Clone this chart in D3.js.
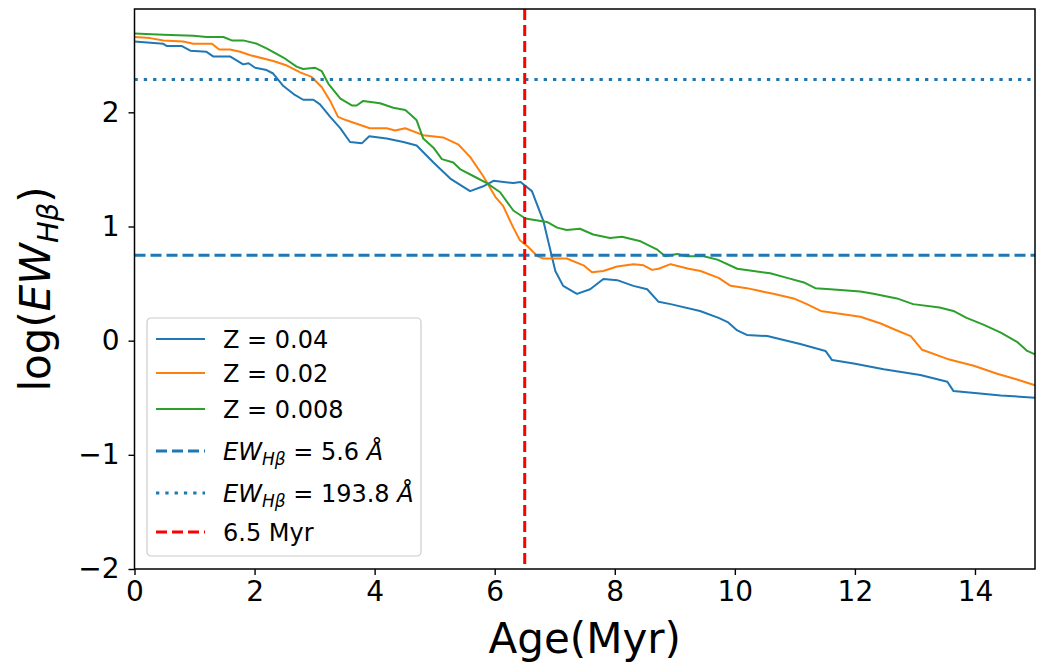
<!DOCTYPE html>
<html>
<head>
<meta charset="utf-8">
<script src="https://cdn.jsdelivr.net/npm/d3@7"></script>
<style>
  body { margin: 0; background: #ffffff; }
  text { font-family: "DejaVu Sans", sans-serif; fill: #000; }
</style>
</head>
<body>
<div id="chart"></div>
<script>
//Data (age in Myr, log EW)
var ageZ004 = [0, 0.48, 0.54, 0.79, 0.93, 1.2, 1.31, 1.59, 1.81, 1.9, 2.01, 2.2, 2.31, 2.48, 2.65, 2.81, 2.98, 3.09, 3.26, 3.43, 3.59, 3.79, 3.91, 4.2, 4.48, 4.7, 4.98, 5.26, 5.59, 5.8, 5.98, 6.31, 6.43, 6.62, 6.81, 7.01, 7.14, 7.37, 7.59, 7.81, 8.04, 8.31, 8.54, 8.73, 8.93, 9.42, 9.73, 9.89, 10.04, 10.2, 10.54, 11.09, 11.51, 11.62, 11.98, 12.48, 13.09, 13.54, 13.64, 14.04, 14.43, 15];
var ewZ004 = [2.62, 2.60, 2.58, 2.58, 2.54, 2.53, 2.49, 2.49, 2.42, 2.43, 2.39, 2.37, 2.34, 2.23, 2.16, 2.11, 2.11, 2.07, 1.96, 1.86, 1.74, 1.73, 1.79, 1.77, 1.74, 1.71, 1.56, 1.42, 1.31, 1.35, 1.40, 1.38, 1.39, 1.31, 1.05, 0.61, 0.48, 0.41, 0.45, 0.54, 0.53, 0.48, 0.45, 0.34, 0.32, 0.26, 0.20, 0.16, 0.09, 0.05, 0.04, -0.03, -0.09, -0.17, -0.20, -0.25, -0.30, -0.36, -0.44, -0.46, -0.48, -0.50];

var ageZ002 = [0, 0.26, 0.48, 0.81, 0.98, 1.29, 1.41, 1.59, 1.76, 1.93, 2.31, 2.54, 2.76, 2.95, 3.12, 3.26, 3.39, 3.53, 3.7, 3.92, 4.2, 4.34, 4.51, 4.81, 5.14, 5.39, 5.59, 5.81, 6.01, 6.14, 6.31, 6.42, 6.56, 6.71, 6.81, 7.2, 7.48, 7.62, 7.81, 8.04, 8.31, 8.48, 8.62, 8.73, 8.93, 9.23, 9.43, 9.73, 9.93, 10.2, 10.64, 10.98, 11.2, 11.43, 12.09, 12.43, 12.65, 12.93, 13.12, 13.54, 13.98, 14.37, 14.7, 15];
var ewZ002 = [2.66, 2.65, 2.63, 2.62, 2.60, 2.60, 2.55, 2.55, 2.53, 2.50, 2.45, 2.41, 2.35, 2.31, 2.22, 2.10, 1.96, 1.93, 1.90, 1.86, 1.86, 1.84, 1.86, 1.80, 1.78, 1.72, 1.61, 1.44, 1.26, 1.18, 0.99, 0.88, 0.82, 0.74, 0.72, 0.72, 0.66, 0.60, 0.61, 0.65, 0.67, 0.66, 0.62, 0.63, 0.67, 0.63, 0.61, 0.55, 0.48, 0.46, 0.41, 0.37, 0.32, 0.26, 0.21, 0.15, 0.10, 0.04, -0.08, -0.16, -0.22, -0.29, -0.34, -0.39];

var ageZ0008 = [0, 0.48, 0.98, 1.2, 1.48, 1.62, 1.81, 2.04, 2.2, 2.48, 2.7, 2.81, 3.01, 3.12, 3.23, 3.43, 3.62, 3.7, 3.81, 4.09, 4.31, 4.51, 4.62, 4.7, 4.81, 4.98, 5.12, 5.31, 5.43, 5.65, 5.87, 6.09, 6.31, 6.51, 6.87, 7.04, 7.2, 7.42, 7.64, 7.92, 8.12, 8.43, 8.7, 8.84, 9.04, 9.2, 9.48, 9.71, 10.04, 10.31, 10.59, 10.87, 11.15, 11.34, 11.59, 12.09, 12.31, 12.7, 12.97, 13.41, 13.64, 13.86, 14.14, 14.43, 14.7, 14.87, 15];
var ewZ0008 = [2.69, 2.68, 2.67, 2.66, 2.66, 2.63, 2.63, 2.60, 2.56, 2.48, 2.40, 2.38, 2.39, 2.36, 2.25, 2.12, 2.06, 2.06, 2.10, 2.08, 2.04, 2.02, 1.97, 1.93, 1.77, 1.69, 1.59, 1.56, 1.50, 1.44, 1.38, 1.30, 1.14, 1.07, 1.04, 0.99, 0.97, 0.98, 0.93, 0.90, 0.91, 0.87, 0.80, 0.74, 0.76, 0.74, 0.74, 0.71, 0.63, 0.61, 0.59, 0.55, 0.51, 0.46, 0.45, 0.43, 0.41, 0.37, 0.32, 0.29, 0.26, 0.20, 0.14, 0.07, -0.01, -0.09, -0.12];

var seriesLabels = ["Z = 0.04", "Z = 0.02", "Z = 0.008"];
var seriesColors = ["#1f77b4", "#ff7f0e", "#2ca02c"];

//Reference lines
var ewLow = 5.6;
var ewHigh = 193.8;
var ageCut = 6.5;

var xTicks = [0, 2, 4, 6, 8, 10, 12, 14];
var yTicks = [-2, -1, 0, 1, 2];

//Define SVG area
var svgWidth = 1046;
var svgHeight = 668;

var chartMargin = { top: 9, right: 11, bottom: 99, left: 134.5 };
var chartWidth = svgWidth - chartMargin.left - chartMargin.right;
var chartHeight = svgHeight - chartMargin.top - chartMargin.bottom;

var svg = d3.select("#chart")
    .append("svg")
    .attr("width", svgWidth)
    .attr("height", svgHeight);

var chartGroup = svg.append("g")
    .attr("transform", `translate(${chartMargin.left}, ${chartMargin.top})`);

//Scales
var xScale = d3.scaleLinear().domain([0, 15]).range([0, chartWidth]);
var yScale = d3.scaleLinear().domain([-2, 2.905]).range([chartHeight, 0]);

//Series
var series = [
    { label: seriesLabels[0], color: seriesColors[0], ages: ageZ004, ews: ewZ004 },
    { label: seriesLabels[1], color: seriesColors[1], ages: ageZ002, ews: ewZ002 },
    { label: seriesLabels[2], color: seriesColors[2], ages: ageZ0008, ews: ewZ0008 }
];

var line = d3.line()
    .x(d => xScale(d[0]))
    .y(d => yScale(d[1]));

series.forEach(function(s) {
    var pts = s.ages.map((a, i) => [a, s.ews[i]]);
    chartGroup.append("path")
        .datum(pts)
        .attr("d", line)
        .attr("fill", "none")
        .attr("stroke", s.color)
        .attr("stroke-width", 2)
        .attr("stroke-linejoin", "round");
});

//Horizontal and vertical reference lines
chartGroup.append("line")
    .attr("x1", 0).attr("x2", chartWidth)
    .attr("y1", yScale(Math.log10(ewLow))).attr("y2", yScale(Math.log10(ewLow)))
    .attr("stroke", "#1f77b4")
    .attr("stroke-width", 3)
    .attr("stroke-dasharray", "11,5");

chartGroup.append("line")
    .attr("x1", 0).attr("x2", chartWidth)
    .attr("y1", yScale(Math.log10(ewHigh))).attr("y2", yScale(Math.log10(ewHigh)))
    .attr("stroke", "#1f77b4")
    .attr("stroke-width", 3)
    .attr("stroke-dasharray", "3.3,6");

chartGroup.append("line")
    .attr("x1", xScale(ageCut)).attr("x2", xScale(ageCut))
    .attr("y1", 0).attr("y2", chartHeight)
    .attr("stroke", "#ff0000")
    .attr("stroke-width", 3)
    .attr("stroke-dasharray", "11,5");

//Axes
var bottomAxis = d3.axisBottom(xScale)
    .tickValues(xTicks)
    .tickSize(6)
    .tickPadding(6)
    .tickFormat(d3.format("d"));
var leftAxis = d3.axisLeft(yScale)
    .tickValues(yTicks)
    .tickSize(6)
    .tickPadding(9)
    .tickFormat(d => d < 0 ? "\u2212" + Math.abs(d) : d);

var xAxis = chartGroup.append("g")
    .attr("transform", `translate(0, ${chartHeight})`)
    .call(bottomAxis);
var yAxis = chartGroup.append("g")
    .call(leftAxis);

[xAxis, yAxis].forEach(function(ax) {
    ax.select(".domain").remove();
    ax.selectAll("line").attr("stroke", "#000").attr("stroke-width", 1.4);
    ax.selectAll("text")
        .attr("font-family", "DejaVu Sans")
        .attr("font-size", "28px")
        .attr("fill", "#000");
});

//Frame
chartGroup.append("rect")
    .attr("width", chartWidth)
    .attr("height", chartHeight)
    .attr("fill", "none")
    .attr("stroke", "#000")
    .attr("stroke-width", 1.5);

//Axis labels
svg.append("text")
    .attr("x", chartMargin.left + chartWidth / 2)
    .attr("y", 653)
    .attr("text-anchor", "middle")
    .attr("font-size", "42px")
    .text("Age(Myr)");

var yLabel = svg.append("text")
    .attr("transform", `translate(50, ${chartMargin.top + chartHeight / 2}) rotate(-90)`)
    .attr("text-anchor", "middle")
    .attr("font-size", "42px");
yLabel.append("tspan").text("log(");
yLabel.append("tspan").attr("font-style", "italic").text("EW");
yLabel.append("tspan").attr("font-style", "italic").attr("font-size", "29px").attr("dy", 8).text("H\u03b2");
yLabel.append("tspan").attr("dy", -8).text(")");

//Legend
var legend = svg.append("g").attr("transform", "translate(147, 318)");
legend.append("rect")
    .attr("width", 274)
    .attr("height", 238)
    .attr("rx", 4)
    .attr("fill", "#ffffff")
    .attr("fill-opacity", 0.8)
    .attr("stroke", "#cccccc")
    .attr("stroke-width", 1.2);

var legendItems = [
    { color: seriesColors[0], dash: null, width: 2, y: 21, parts: [[seriesLabels[0]]] },
    { color: seriesColors[1], dash: null, width: 2, y: 55, parts: [[seriesLabels[1]]] },
    { color: seriesColors[2], dash: null, width: 2, y: 91, parts: [[seriesLabels[2]]] },
    { color: "#1f77b4", dash: "11,5", width: 3, y: 133, parts: [["EW", "i"], ["H\u03b2", "sub"], [" = 5.6 "], ["\u00c5", "i"]] },
    { color: "#1f77b4", dash: "3.3,6", width: 3, y: 175, parts: [["EW", "i"], ["H\u03b2", "sub"], [" = 193.8 "], ["\u00c5", "i"]] },
    { color: "#ff0000", dash: "11,5", width: 3, y: 214, parts: [[ageCut + " Myr"]] }
];

legendItems.forEach(function(item) {
    legend.append("line")
        .attr("x1", 9).attr("x2", 58)
        .attr("y1", item.y).attr("y2", item.y)
        .attr("stroke", item.color)
        .attr("stroke-width", item.width)
        .attr("stroke-dasharray", item.dash);

    var t = legend.append("text")
        .attr("x", 76)
        .attr("y", item.y + 8.5)
        .attr("font-size", "24px");
    var shifted = false;
    item.parts.forEach(function(p) {
        var ts = t.append("tspan").text(p[0]);
        if (p[1] === "i") ts.attr("font-style", "italic");
        if (p[1] === "sub") {
            ts.attr("font-style", "italic").attr("font-size", "17px").attr("dy", 5);
            shifted = true;
        } else if (shifted) {
            ts.attr("dy", -5);
            shifted = false;
        }
    });
});
</script>
</body>
</html>
